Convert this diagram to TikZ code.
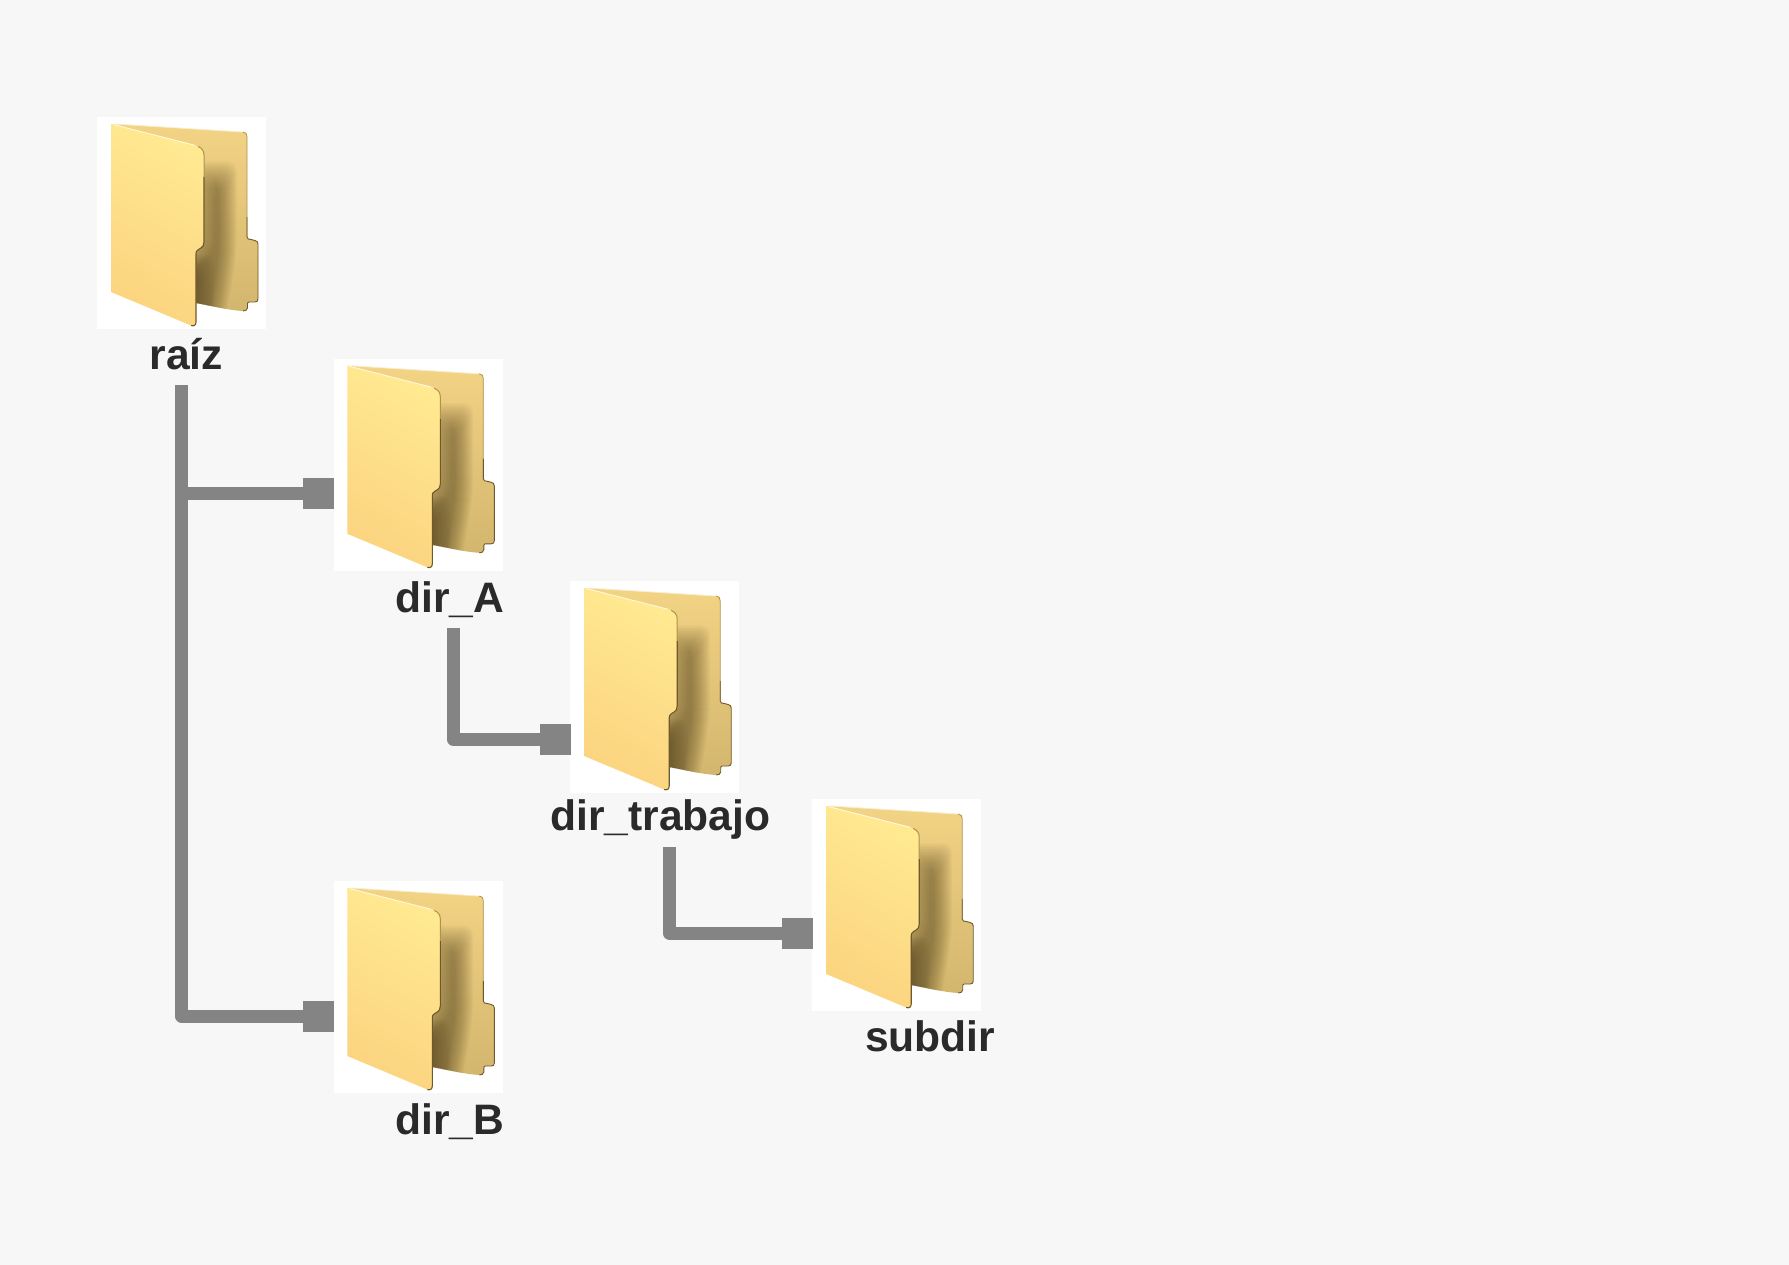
\documentclass[tikz,border=0pt]{standalone}
\usepackage{fontspec}
\setmainfont{Liberation Sans}
\definecolor{bgc}{HTML}{F7F7F7}
\definecolor{conn}{HTML}{848484}
\definecolor{txt}{HTML}{2B2A2B}
\definecolor{fronta}{HTML}{FFE991}
\definecolor{frontb}{HTML}{FCD480}
\definecolor{backa}{HTML}{F3D384}
\definecolor{backb}{HTML}{D3B66E}
\definecolor{shad}{HTML}{3A2C10}
\definecolor{edgec}{HTML}{6F5829}
\definecolor{edgel}{HTML}{B0924C}
\def\backp{(14,7) -- (146,15) .. controls (149,15.2) and (150,17) .. (150,20) -- (150,120) .. controls (150,122) and (152,122.5) .. (154,122.5) -- (158,123.5) .. controls (160,124) and (161,125) .. (161,127) -- (161,182) .. controls (161,184) and (160,185) .. (158,185) -- (152,185) .. controls (151,185) and (150.5,186) .. (150.5,187) -- (150.5,191) .. controls (150.5,193) and (148,194.3) .. (146,194) .. controls (130,193) and (115,189) .. (99,186) -- (90,100) -- cycle}
\def\frontp{(14,7) -- (99,28.5) .. controls (104,30) and (107,33) .. (107,38) -- (107,125) .. controls (107,128) and (106,130) .. (104,131) -- (101.5,132.5) .. controls (99.5,133.5) and (99,135) .. (99,137) -- (99,205) .. controls (99,208) and (97,209.5) .. (94,208.5) -- (14,175) -- cycle}
\newcommand{\folderart}[1]{%
  \begin{scope}[shift={(#1.north west)}]
    \shade[top color=backa, bottom color=backb] \backp;
    \begin{scope}
      \clip \backp;
      \foreach \t in {2,3,...,20}
        \fill[shad, opacity=.026, rounded corners=10pt] ({120-1.5*\t},{74-1.5*\t}) -- ({120+\t},{74-1.5*\t}) -- ({120+\t},128) -- ({117+\t},155) -- ({108+\t},205) -- (85,205) -- (85,{170-\t}) -- ({120-1.5*\t},{135-\t}) -- cycle;
      \foreach \t in {-12,-10,...,12}
        \fill[shad, opacity=.04, rounded corners=10pt] (85,{150-\t}) -- ({106+\t},{150-\t}) -- ({104+\t},205) -- (85,205) -- cycle;
    \end{scope}
    \draw[edgel, line width=.8pt, line join=round] (146,15) .. controls (149,15.2) and (150,17) .. (150,20) -- (150,120);
    \draw[edgec, line width=.9pt, line join=round] (150,100) -- (150,120) .. controls (150,122) and (152,122.5) .. (154,122.5) -- (158,123.5) .. controls (160,124) and (161,125) .. (161,127) -- (161,182) .. controls (161,184) and (160,185) .. (158,185) -- (152,185) .. controls (151,185) and (150.5,186) .. (150.5,187) -- (150.5,191) .. controls (150.5,193) and (148,194.3) .. (146,194);
    \shade[top color=fronta, bottom color=frontb, shading angle=-28] \frontp;
    \draw[edgel, line width=1pt] (101,29.5) .. controls (105,31) and (107,34) .. (107,38) -- (107,60);
    \draw[edgec, line width=1.1pt] (107,60) -- (107,125) .. controls (107,128) and (106,130) .. (104,131) -- (101.5,132.5) .. controls (99.5,133.5) and (99,135) .. (99,137) -- (99,205) .. controls (99,208) and (97,209.5) .. (94,208.5);
    \draw[white!70!fronta, line width=.9pt] (16,7.5) -- (98,28.3);
    \draw[white!55!backa, line width=.8pt] (18,7) -- (144,15);
  \end{scope}}
\tikzset{
  folderbox/.style={fill=white, draw=none, inner sep=0pt, minimum width=169pt, minimum height=212pt, anchor=north west},
  lab/.style={font=\fontsize{42.6}{50}\selectfont\bfseries, text=txt, inner sep=0pt, anchor=base},
  endsq/.style={fill=conn, draw=none, inner sep=0pt, minimum size=31pt},
  link/.style={draw=conn, line width=13pt, line join=round}
}
\begin{document}
\begin{tikzpicture}[x=1pt,y=-1pt]
  \useasboundingbox[fill=bgc] (0,0) rectangle (1789,1265);
  % folder tiles
  \node[folderbox] (raiz) at (97,117) {};
  \node[folderbox] (dirA) at (333.3,358.8) {};
  \node[folderbox] (trab) at (570.2,581) {};
  \node[folderbox] (subd) at (812.2,799) {};
  \node[folderbox] (dirB) at (333.3,881) {};
  \folderart{raiz}
  \folderart{dirA}
  \folderart{trab}
  \folderart{subd}
  \folderart{dirB}
  % labels
  \node[lab] (lraiz) at (186.3,370) {raíz};
  \node[lab] (ldirA) at (449.7,612) {dir\_A};
  \node[lab] (ltrab) at (660.3,830.8) {dir\_trabajo};
  \node[lab] (lsubd) at (930.3,1051.2) {subdir};
  \node[lab] (ldirB) at (449.7,1134.7) {dir\_B};
  % connector ends
  \node[endsq] (sqA) at (318.5,493.3) {};
  \node[endsq] (sqB) at (318.5,1016) {};
  \node[endsq] (sqT) at (555.7,739.5) {};
  \node[endsq] (sqS) at (797.7,933) {};
  \coordinate (c0) at (181.5,385);
  \coordinate (br) at (181.5,493.3);
  \coordinate (c1) at (453.3,627.5);
  \coordinate (c2) at (669.2,847);
  % connectors
  \draw[link] (c0) |- (sqB);
  \draw[link] (br) -- (sqA);
  \draw[link] (c1) |- (sqT);
  \draw[link] (c2) |- (sqS);
\end{tikzpicture}
\end{document}
